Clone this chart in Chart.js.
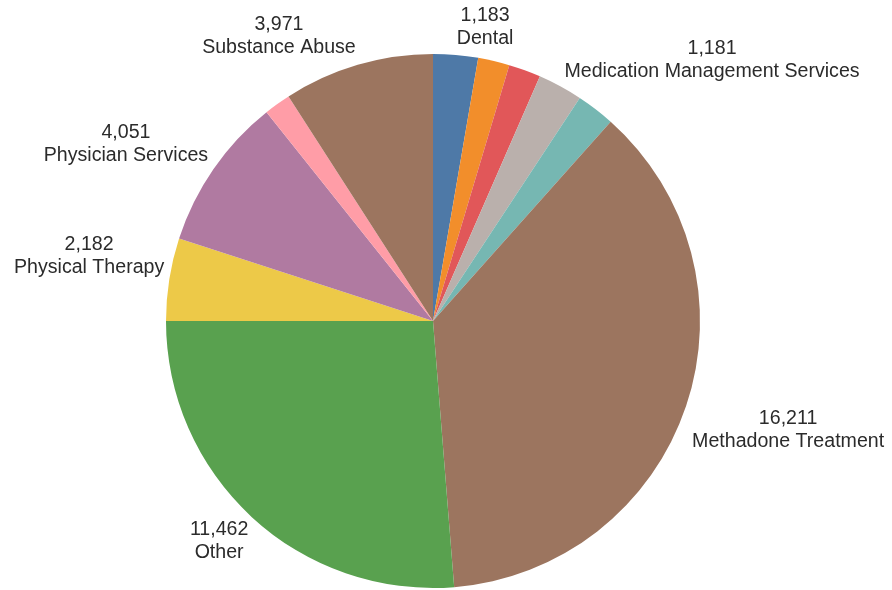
<!DOCTYPE html>
<html>
<head>
<meta charset="utf-8">
<script src="https://cdn.jsdelivr.net/npm/chart.js@4/dist/chart.umd.min.js"></script>
<style>
  html, body { margin: 0; padding: 0; background: #ffffff; }
  #wrap { width: 892px; height: 590px; }
</style>
</head>
<body>
<div id="wrap"><canvas id="pie" width="892" height="590"></canvas></div>
<script>
// Claims by service category
const categories = [
  "Dental",
  "Home Health",
  "Laboratory",
  "Medication Management Services",
  "Mental Health",
  "Methadone Treatment",
  "Other",
  "Physical Therapy",
  "Physician Services",
  "Radiology",
  "Substance Abuse"
];
const counts = [1183, 830, 848, 1181, 1015, 16211, 11462, 2182, 4051, 705, 3971];
const sliceColors = [
  "#4e79a7", "#f28e2b", "#e15759", "#bab0ac", "#76b7b2",
  "#9c755f", "#59a14f", "#edc948", "#b07aa1", "#ff9da7", "#9c755f"
];
// Categories that carry a value/name caption
const captioned = [
  "Dental", "Medication Management Services", "Methadone Treatment",
  "Other", "Physical Therapy", "Physician Services", "Substance Abuse"
];

// Caption anchors, in units of the pie radius from its centre
const captionAnchor = {
  "Dental": [0.195, -1.101],
  "Medication Management Services": [1.045, -0.978],
  "Substance Abuse": [-0.577, -1.067],
  "Physician Services": [-1.150, -0.663],
  "Physical Therapy": [-1.288, -0.243],
  "Methadone Treatment": [1.330, 0.408],
  "Other": [-0.801, 0.824]
};

const fmt = new Intl.NumberFormat("en-US");

const captionPlugin = {
  id: "captions",
  afterDraw(chart) {
    const meta = chart.getDatasetMeta(0);
    if (!meta.data.length) return;
    const arc = meta.data[0];
    const cx = arc.x, cy = arc.y, r = arc.outerRadius;
    const ctx = chart.ctx;
    ctx.save();
    ctx.font = "19.6px 'Liberation Sans', Arial, sans-serif";
    ctx.fillStyle = "#2b2b2b";
    ctx.textAlign = "center";
    ctx.textBaseline = "middle";
    const gap = 11.5;
    categories.forEach((name, i) => {
      if (!captioned.includes(name)) return;
      const a = captionAnchor[name];
      const x = cx + a[0] * r;
      const y = cy + a[1] * r;
      ctx.fillText(fmt.format(counts[i]), x, y - gap);
      ctx.fillText(name, x, y + gap);
    });
    ctx.restore();
  }
};

new Chart(document.getElementById("pie"), {
  type: "pie",
  data: {
    labels: categories,
    datasets: [{
      data: counts,
      backgroundColor: sliceColors,
      borderWidth: 0
    }]
  },
  options: {
    responsive: false,
    animation: false,
    layout: { padding: { top: 54, bottom: 2, left: 0, right: 26 } },
    plugins: {
      legend: { display: false },
      tooltip: { enabled: false }
    }
  },
  plugins: [captionPlugin]
});
</script>
</body>
</html>
